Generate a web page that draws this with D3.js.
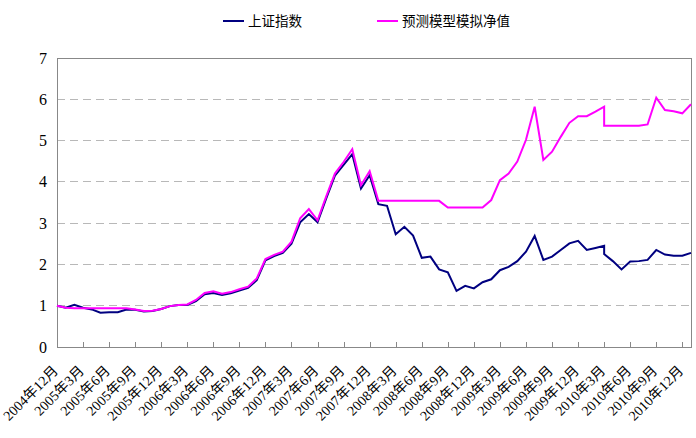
<!DOCTYPE html>
<html><head><meta charset="utf-8">
<script src="https://cdn.jsdelivr.net/npm/d3@7/dist/d3.min.js"></script>
<style>body{margin:0;background:#fff}svg{display:block}</style>
</head><body>
<script>
const tickLabels = ["2004年12月","2005年3月","2005年6月","2005年9月","2005年12月","2006年3月","2006年6月","2006年9月","2006年12月","2007年3月","2007年6月","2007年9月","2007年12月","2008年3月","2008年6月","2008年9月","2008年12月","2009年3月","2009年6月","2009年9月","2009年12月","2010年3月","2010年6月","2010年9月","2010年12月"];
const tickPeriods = [0,3,6,9,12,15,18,21,24,27,30,33,36,39,42,45,48,51,54,57,60,63,66,69,72];
const period = [0,1,2,3,4,5,6,7,8,9,10,11,12,13,14,15,16,17,18,19,20,21,22,23,24,25,26,27,28,29,30,31,32,33,34,35,36,37,38,39,40,41,42,43,44,45,46,47,48,49,50,51,52,53,54,55,56,57,58,59,60,61,62,63,63,64,65,66,67,68,69,70,71,72,73];
const shIndex = [1.00,0.95,1.02,0.95,0.91,0.83,0.84,0.84,0.91,0.90,0.86,0.87,0.92,0.99,1.02,1.02,1.11,1.28,1.31,1.26,1.30,1.37,1.43,1.62,2.10,2.20,2.28,2.50,3.02,3.22,3.02,3.60,4.15,4.41,4.67,3.84,4.16,3.46,3.42,2.73,2.91,2.70,2.16,2.19,1.88,1.81,1.36,1.48,1.42,1.57,1.64,1.86,1.94,2.08,2.31,2.69,2.11,2.19,2.35,2.51,2.57,2.35,2.40,2.45,2.25,2.08,1.88,2.07,2.08,2.11,2.35,2.24,2.21,2.21,2.28];
const modelNav = [1.00,0.95,0.94,0.94,0.94,0.94,0.94,0.94,0.94,0.91,0.87,0.88,0.92,0.99,1.02,1.03,1.14,1.31,1.35,1.29,1.33,1.40,1.46,1.66,2.13,2.23,2.31,2.55,3.12,3.34,3.07,3.65,4.20,4.48,4.79,3.92,4.26,3.54,3.54,3.54,3.54,3.54,3.54,3.54,3.54,3.38,3.38,3.38,3.38,3.38,3.56,4.04,4.20,4.49,5.02,5.82,4.53,4.73,5.09,5.43,5.59,5.59,5.70,5.82,5.36,5.36,5.36,5.36,5.36,5.39,6.04,5.74,5.71,5.66,5.88];
const yTicks = [0,1,2,3,4,5,6,7];
const seriesNames = ["上证指数","预测模型模拟净值"];
const colors = ["#000080","#FF00FF"];

const W = 696, H = 438;
const L = 57, R = 691, T = 58, B = 347;
const svg = d3.select("body").append("svg").attr("width", W).attr("height", H);

const x = d3.scaleLinear().domain([0, 73]).range([L, R]);
const y = d3.scaleLinear().domain([0, 7]).range([B, T]);

// gridlines
svg.append("g").selectAll("line").data(yTicks.filter(d => d > 0 && d < 7)).join("line")
  .attr("x1", L).attr("x2", R).attr("y1", d => y(d)).attr("y2", d => y(d))
  .attr("stroke", "#b8b8b8").attr("stroke-width", 1).attr("stroke-dasharray", "8,5")
  .attr("shape-rendering", "crispEdges");

// plot border top/right
svg.append("path").attr("d", `M${L},${T}H${R}V${B}`).attr("fill", "none")
  .attr("stroke", "#888").attr("stroke-width", 1).attr("shape-rendering", "crispEdges");

// y axis
const yAxis = d3.axisLeft(y).tickValues(yTicks).tickSize(0).tickPadding(10).tickFormat(d3.format("d"));
const gy = svg.append("g").attr("transform", `translate(${L},0)`).call(yAxis);
gy.select(".domain").attr("stroke", "#888").attr("shape-rendering", "crispEdges");
gy.selectAll("text").attr("font-family", "Liberation Serif, serif").attr("font-size", 16).attr("fill", "#000");

// x axis
const xAxis = d3.axisBottom(x).tickValues(tickPeriods).tickSizeInner(-5).tickSizeOuter(0).tickFormat((d, i) => tickLabels[i]);
const gx = svg.append("g").attr("transform", `translate(0,${B})`).call(xAxis);
gx.select(".domain").attr("stroke", "#888").attr("shape-rendering", "crispEdges");
gx.selectAll(".tick line").attr("stroke", "#888").attr("shape-rendering", "crispEdges");
gx.selectAll("text")
  .attr("font-family", "Liberation Serif, 'Noto Sans CJK SC', serif").attr("font-size", 14).attr("fill", "#000")
  .attr("letter-spacing", "0.1px")
  .attr("text-anchor", "end").attr("dy", "0.35em")
  .attr("transform", "translate(-2,21) rotate(-45)").attr("y", 0).attr("x", 0);

// lines
const pts = s => period.map((p, i) => [p, s[i]]);
const line = d3.line().x(d => x(d[0])).y(d => y(d[1]));
[shIndex, modelNav].forEach((s, k) => {
  svg.append("path").datum(pts(s)).attr("d", line).attr("fill", "none")
    .attr("stroke", colors[k]).attr("stroke-width", 2).attr("stroke-linejoin", "miter");
});

// legend
const legX = [223, 377];
const lg = svg.append("g");
seriesNames.forEach((n, k) => {
  lg.append("line").attr("x1", legX[k]).attr("x2", legX[k] + 21).attr("y1", 21).attr("y2", 21)
    .attr("stroke", colors[k]).attr("stroke-width", 2);
  lg.append("text").attr("x", legX[k] + 25).attr("y", 26).text(n)
    .attr("font-family", "'Noto Sans CJK SC', sans-serif").attr("font-size", 13.5).attr("fill", "#000");
});
</script>
</body></html>
